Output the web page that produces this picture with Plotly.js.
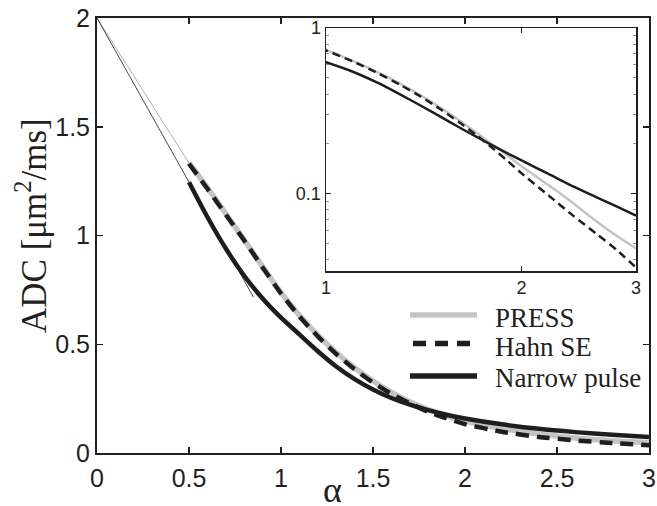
<!DOCTYPE html>
<html>
<head>
<meta charset="utf-8">
<script src="https://cdn.plot.ly/plotly-3.0.1.min.js"></script>
<style>html,body{margin:0;padding:0;background:#fff;}#chart{width:657px;height:506px;}</style>
</head>
<body>
<div id="chart"></div>
<script>
// alpha values (x) and ADC values [um^2/ms]
var alpha      = [0.5, 0.6, 0.7, 0.8, 0.9, 1.0, 1.1, 1.2, 1.3, 1.4, 1.5, 1.6, 1.7, 1.8, 1.9, 2.0, 2.2, 2.4, 2.6, 2.8, 3.0];
var adcPRESS   = [1.335, 1.22, 1.10, 0.98, 0.857, 0.737, 0.633, 0.542, 0.462, 0.392, 0.331, 0.279, 0.236, 0.200, 0.171, 0.147, 0.113, 0.088, 0.069, 0.056, 0.047];
var adcHahnSE  = [1.33, 1.215, 1.096, 0.977, 0.853, 0.733, 0.628, 0.536, 0.455, 0.385, 0.324, 0.272, 0.228, 0.190, 0.159, 0.133, 0.098, 0.074, 0.058, 0.046, 0.036];
var adcNarrow  = [1.245, 1.085, 0.94, 0.815, 0.71, 0.622, 0.545, 0.468, 0.398, 0.34, 0.292, 0.253, 0.222, 0.197, 0.176, 0.159, 0.132, 0.111, 0.096, 0.084, 0.074];
// thin straight lines from the origin value
var lineNarrowX = [0, 0.85];
var lineNarrowY = [2, 0.717];
var lineSEX     = [0, 0.5];
var lineSEY     = [2, 1.333];
// tick values / labels
var mainXTicks  = [0, 0.5, 1, 1.5, 2, 2.5, 3];
var mainYTicks  = [0, 0.5, 1, 1.5, 2];
var insetXTicks = [1, 2, 3];
var insetYTicks = [0.1, 1];
var insetYLabels = ['0.1', '1'];
var insetYMinor = [0.04, 0.05, 0.06, 0.07, 0.08, 0.09, 0.2, 0.3, 0.4, 0.5, 0.6, 0.7, 0.8, 0.9];
var seriesNames = ['PRESS', 'Hahn SE', 'Narrow pulse'];

var GREY = '#c4c4c4', BLK = '#1e1e1e', AX = '#231f20';
var SANS = 'Liberation Sans';
var SERIF = 'Liberation Serif';

var traces = [
  {x: lineSEX, y: lineSEY, mode: 'lines', line: {color: '#9a9a9a', width: 0.8}, showlegend: false, xaxis: 'x', yaxis: 'y'},
  {x: lineNarrowX, y: lineNarrowY, mode: 'lines', line: {color: '#333', width: 0.9}, showlegend: false, xaxis: 'x', yaxis: 'y'},
  {x: alpha, y: adcPRESS, mode: 'lines', name: seriesNames[0], line: {color: GREY, width: 5.5, shape: 'spline', smoothing: 0.6}, showlegend: false, xaxis: 'x', yaxis: 'y'},
  {x: alpha, y: adcHahnSE, mode: 'lines', name: seriesNames[1], line: {color: BLK, width: 4.5, dash: '13px,8px', shape: 'spline', smoothing: 0.6}, showlegend: false, xaxis: 'x', yaxis: 'y'},
  {x: alpha, y: adcNarrow, mode: 'lines', name: seriesNames[2], line: {color: BLK, width: 4.5, shape: 'spline', smoothing: 0.6}, showlegend: false, xaxis: 'x', yaxis: 'y'},
  // inset
  {x: alpha, y: adcPRESS, mode: 'lines', line: {color: GREY, width: 2.5, shape: 'spline', smoothing: 0.6}, showlegend: false, xaxis: 'x2', yaxis: 'y2'},
  {x: alpha, y: adcHahnSE, mode: 'lines', line: {color: BLK, width: 2.5, dash: '8px,5px', shape: 'spline', smoothing: 0.6}, showlegend: false, xaxis: 'x2', yaxis: 'y2'},
  {x: alpha, y: adcNarrow, mode: 'lines', line: {color: BLK, width: 2.5, shape: 'spline', smoothing: 0.6}, showlegend: false, xaxis: 'x2', yaxis: 'y2'}
];

var tickFont = {family: SANS, size: 25, color: AX};

function px2x(p) { return (p - 97) / 552; }
function px2y(p) { return (453 - p) / 435; }

var legendY = [315, 343.5, 376];
var legendTextY = [318, 347, 378];
var shapes = [
  {type: 'line', xref: 'paper', yref: 'paper', x0: px2x(410), x1: px2x(477), y0: px2y(legendY[0]), y1: px2y(legendY[0]), line: {color: GREY, width: 5.5}},
  {type: 'line', xref: 'paper', yref: 'paper', x0: px2x(413), x1: px2x(477), y0: px2y(legendY[1]), y1: px2y(legendY[1]), line: {color: BLK, width: 5.5, dash: '13px,9px'}},
  {type: 'line', xref: 'paper', yref: 'paper', x0: px2x(410), x1: px2x(477), y0: px2y(legendY[2]), y1: px2y(legendY[2]), line: {color: BLK, width: 5.5}}
];
var annotations = seriesNames.map(function (n, i) {
  return {text: n, xref: 'paper', yref: 'paper', x: px2x(493), y: px2y(legendTextY[i]), xanchor: 'left', yanchor: 'middle', showarrow: false, font: {family: SERIF, size: 27, color: AX}};
});
annotations.push({text: 'ADC [μm<sup>2</sup>/ms]', xref: 'paper', yref: 'paper', x: px2x(31), y: px2y(226), xanchor: 'center', yanchor: 'middle', textangle: -90, showarrow: false, font: {family: SERIF, size: 35, color: AX}});
annotations.push({text: 'α', xref: 'paper', yref: 'paper', x: px2x(332), y: px2y(490), xanchor: 'center', yanchor: 'middle', showarrow: false, font: {family: SERIF, size: 36, color: AX}});

var layout = {
  width: 657, height: 506,
  margin: {l: 97, r: 8, t: 18, b: 53},
  paper_bgcolor: '#fff', plot_bgcolor: '#fff',
  showlegend: false,
  xaxis: {domain: [0, 1], range: [0, 3], tickvals: mainXTicks, ticks: 'inside', ticklen: 6, tickwidth: 1.5, tickcolor: AX,
          showline: true, linewidth: 2, linecolor: AX, mirror: 'ticks', showgrid: false, zeroline: false, tickfont: tickFont, ticklabelstandoff: 2},
  yaxis: {domain: [0, 1], range: [0, 2], tickvals: mainYTicks, ticks: 'inside', ticklen: 6, tickwidth: 1.5, tickcolor: AX,
          showline: true, linewidth: 2, linecolor: AX, mirror: 'ticks', showgrid: false, zeroline: false, tickfont: tickFont},
  xaxis2: {domain: [px2x(326), px2x(636)], anchor: 'y2', type: 'log', range: [0, Math.log10(3)], tickvals: insetXTicks, ticks: 'inside', ticklen: 5, tickwidth: 1, tickcolor: AX,
          showline: true, linewidth: 1.5, linecolor: AX, mirror: 'ticks', showgrid: false, zeroline: false,
          tickfont: {family: SANS, size: 18, color: AX}},
  yaxis2: {domain: [px2y(271), px2y(28)], anchor: 'x2', type: 'log', range: [Math.log10(0.0343), 0], tickvals: insetYTicks, ticktext: insetYLabels, ticks: 'inside', ticklen: 5, tickwidth: 1, tickcolor: AX,
          minor: {tickvals: insetYMinor, ticks: 'inside', ticklen: 3, tickcolor: '#777', tickwidth: 0.8},
          showline: true, linewidth: 1.5, linecolor: AX, mirror: 'ticks', showgrid: false, zeroline: false,
          tickfont: {family: SANS, size: 18, color: AX}},
  shapes: shapes,
  annotations: annotations
};

Plotly.newPlot('chart', traces, layout, {displayModeBar: false, staticPlot: true});
</script>
</body>
</html>
